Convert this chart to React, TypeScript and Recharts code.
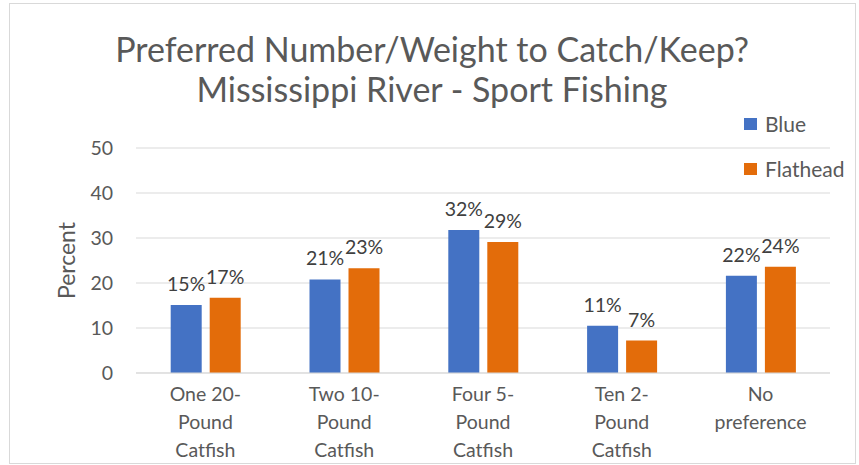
import React from 'react';
import { BarChart, Bar, XAxis, YAxis, CartesianGrid, LabelList } from 'recharts';

// category labels, \n marks the line breaks under the axis
const categories = [
  'One 20-\nPound\nCatfish',
  'Two 10-\nPound\nCatfish',
  'Four 5-\nPound\nCatfish',
  'Ten 2-\nPound\nCatfish',
  'No\npreference',
];
const blueValues = [15.1, 20.8, 31.8, 10.5, 21.6];
const flatheadValues = [16.7, 23.3, 29.1, 7.2, 23.6];
const yTicks = [0, 10, 20, 30, 40, 50];
const seriesNames = ['Blue', 'Flathead'];

const data = categories.map((c, i) => ({
  category: c,
  Blue: blueValues[i],
  Flathead: flatheadValues[i],
}));

const FONT = 'Lato, "Open Sans", sans-serif';
const GREY = '#595959';
const BLUE = '#4472C4';
const ORANGE = '#E36C0A';
const seriesColors = [BLUE, ORANGE];

function CategoryTick({ x, y, payload }: any) {
  const lines = String(payload.value).split('\n');
  return (
    <text x={x} y={y} textAnchor="middle" fill={GREY} fontSize={19.5} fontFamily={FONT}>
      {lines.map((l, i) => (
        <tspan key={i} x={x} dy={i === 0 ? 20 : 28}>
          {l}
        </tspan>
      ))}
    </text>
  );
}

function PercentLabel({ viewBox }: any) {
  const cx = 66;
  const cy = viewBox.y + viewBox.height / 2;
  return (
    <text
      x={cx}
      y={cy}
      transform={`rotate(-90 ${cx} ${cy})`}
      textAnchor="middle"
      dominantBaseline="central"
      fill={GREY}
      fontSize={23}
      fontFamily={FONT}
    >
      Percent
    </text>
  );
}

const pct = (v: any) => `${Math.round(v)}%`;

const titleStyle: React.CSSProperties = {
  position: 'absolute',
  left: 0,
  width: 864,
  textAlign: 'center',
  fontFamily: FONT,
  fontSize: 34,
  lineHeight: '40px',
  color: GREY,
};

export default function App() {
  return (
    <div style={{ position: 'absolute', left: 0, top: 0, width: 859, height: 465, background: '#fff' }}>
      <div
        style={{
          position: 'absolute',
          left: 9,
          top: 3,
          width: 845,
          height: 459,
          border: '1px solid #d9d9d9',
        }}
      />
      <div style={{ ...titleStyle, top: 29 }}>Preferred Number/Weight to Catch/Keep?</div>
      <div style={{ ...titleStyle, top: 69 }}>Mississippi River - Sport Fishing</div>
      <div
        style={{
          position: 'absolute',
          left: 744,
          top: 101,
          fontFamily: FONT,
          fontSize: 21,
          color: GREY,
        }}
      >
        {seriesNames.map((name, i) => (
          <div key={name} style={{ display: 'flex', alignItems: 'center', height: 45 }}>
            <span style={{ width: 13, height: 12, background: seriesColors[i], marginRight: 8 }} />
            {name}
          </div>
        ))}
      </div>
      <div style={{ position: 'absolute', left: 0, top: 0 }}>
        <BarChart
          width={859}
          height={465}
          data={data}
          margin={{ top: 148, right: 29, bottom: 0, left: 0 }}
          barCategoryGap="25%"
          barGap={8}
        >
          <CartesianGrid vertical={false} stroke="#d9d9d9" />
          <XAxis
            dataKey="category"
            height={92}
            axisLine={{ stroke: '#d9d9d9' }}
            tickLine={false}
            interval={0}
            tick={<CategoryTick />}
          />
          <YAxis
            width={136}
            domain={[0, 50]}
            ticks={yTicks}
            axisLine={false}
            tickLine={false}
            tickMargin={17}
            tick={{ fill: GREY, fontSize: 19.5, fontFamily: FONT }}
            label={<PercentLabel />}
          />
          <Bar dataKey={seriesNames[0]} fill={BLUE} isAnimationActive={false}>
            <LabelList
              dataKey={seriesNames[0]}
              position="top"
              offset={14}
              fill="#404040"
              fontSize={19.5}
              fontFamily={FONT}
              formatter={pct}
            />
          </Bar>
          <Bar dataKey={seriesNames[1]} fill={ORANGE} isAnimationActive={false}>
            <LabelList
              dataKey={seriesNames[1]}
              position="top"
              offset={14}
              fill="#404040"
              fontSize={19.5}
              fontFamily={FONT}
              formatter={pct}
            />
          </Bar>
        </BarChart>
      </div>
    </div>
  );
}
